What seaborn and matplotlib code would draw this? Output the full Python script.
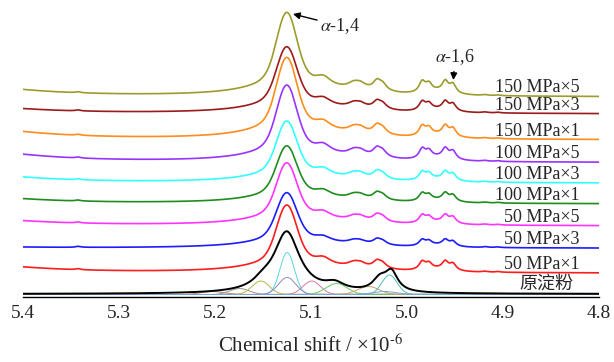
import numpy as np
import pandas as pd
import seaborn as sns
import matplotlib.pyplot as plt

# stacked 1H NMR spectra, top to bottom
samples = ['150 MPa×5', '150 MPa×3', '150 MPa×1', '100 MPa×5', '100 MPa×3',
           '100 MPa×1', '50 MPa×5', '50 MPa×3', '50 MPa×1']
colors = ['#9c9c2c', '#9b1b1b', '#ff8c1c', '#9933ff', '#33ffff',
          '#1f8c1f', '#ff33ff', '#1c1cff', '#ff1c1c']
offsets = [200, 183, 157, 134.3, 113.7, 93, 71, 48.7, 23.7]
main_heights = [83, 66, 81, 76, 61, 57, 62, 55, 67]
minor_scale = [1.0, 0.8, 0.9, 0.9, 0.75, 0.7, 0.7, 0.55, 0.75]
left_rise = [7, 5, 8, 8, 6, 5, 5, 1, 6]

# alpha-1,4 main peak: gaussian core + two lorentzian wings (fractions)
main_center = 5.125
core_frac, core_sigma = 0.62, 0.0098
wing_fracs = [0.30, 0.08]
wing_widths = [0.022, 0.06]

# smaller peaks shared by the treated samples (ppm, height, half width)
minor_centers = [5.087, 5.050, 5.055, 5.048, 5.031, 5.025,
                 4.968, 4.984, 4.977, 4.960, 4.952]
minor_heights = [9, 3, 5, 4, 9, 6, 3, 11, 8, 11, 9]
minor_widths = [0.010, 0.025, 0.007, 0.006, 0.005, 0.005,
                0.012, 0.004, 0.004, 0.004, 0.004]
noise_centers = [5.342, 4.918, 4.905]
noise_heights = [1.0, 0.8, 0.7]

# native starch (原淀粉)
native_label = '原淀粉'
native_offset = 3
native_centers = [5.125, 5.150, 5.075, 5.028, 5.016]
native_heights = [61, 6, 7, 12, 19]
native_widths = [0.0165, 0.012, 0.012, 0.009, 0.008]

# deconvolution components under the native spectrum
comp_base = 2.5
comp_centers = [5.202, 5.174, 5.152, 5.1245, 5.1245, 5.099, 5.073, 5.040, 5.018, 5.023]
comp_heights = [3, 6, 13.5, 42, 17, 13.5, 11, 8, 19.5, 3]
comp_sigmas = [0.012, 0.010, 0.009, 0.0075, 0.009, 0.009, 0.011, 0.011, 0.008, 0.012]
comp_colors = ['#b08070', '#a09090', '#b5b548', '#5cd6d6', '#8a8ac8',
               '#d47aa8', '#66cc66', '#c8a070', '#4fbcbc', '#7fa6d8']

xticks = [5.4, 5.3, 5.2, 5.1, 5.0, 4.9, 4.8]


def lorentz(x, c, h, w):
    return h * w**2 / ((x - c)**2 + w**2)


def gauss(x, c, h, s):
    return h * np.exp(-0.5 * ((x - c) / s)**2)


sns.set_style('white')
plt.rcParams['font.family'] = ['Liberation Serif', 'Noto Sans CJK SC']
plt.rcParams['mathtext.fontset'] = 'stix'

fig = plt.figure(figsize=(6.14, 3.62), dpi=100)
ax = fig.add_axes([22.5 / 614, 65 / 362, 576.5 / 614, 297 / 362])

x = np.linspace(4.8, 5.4, 2000)

for i, name in enumerate(samples):
    y = np.full_like(x, offsets[i])
    y += gauss(x, main_center, main_heights[i] * core_frac, core_sigma)
    for f, w in zip(wing_fracs, wing_widths):
        y += lorentz(x, main_center, main_heights[i] * f, w)
    for c, h, w in zip(minor_centers, minor_heights, minor_widths):
        y += lorentz(x, c, h * minor_scale[i], w)
    for c, h in zip(noise_centers, noise_heights):
        y += lorentz(x, c, h, 0.003)
    y += lorentz(x, 5.46, left_rise[i] / 0.625, 0.08)
    df = pd.DataFrame({'shift': x, 'intensity': y})
    sns.lineplot(data=df, x='shift', y='intensity', color=colors[i], lw=1.2,
                 estimator=None, sort=False, ax=ax)
    ax.text(4.82, offsets[i] + 4.5, name, ha='right', va='baseline', fontsize=13,
            family='Liberation Serif')

for c, h, s, col in zip(comp_centers, comp_heights, comp_sigmas, comp_colors):
    df = pd.DataFrame({'shift': x, 'intensity': comp_base + gauss(x, c, h, s)})
    sns.lineplot(data=df, x='shift', y='intensity', color=col, lw=0.7,
                 estimator=None, sort=False, ax=ax)

y = np.full_like(x, native_offset)
for c, h, w in zip(native_centers, native_heights, native_widths):
    y += lorentz(x, c, h, w)
df = pd.DataFrame({'shift': x, 'intensity': y})
sns.lineplot(data=df, x='shift', y='intensity', color='black', lw=1.4,
             estimator=None, sort=False, ax=ax)
ax.text(4.827, native_offset + 5, native_label, ha='right', va='baseline',
        fontsize=13, family=['Noto Sans CJK SC'])

ax.annotate(r'$\alpha$-1,4', xy=(5.1185, 283), xytext=(5.090, 271),
            ha='left', va='center', fontsize=13,
            arrowprops=dict(arrowstyle='-|>', color='black', lw=1, mutation_scale=10,
                            shrinkA=0, shrinkB=0))
ax.annotate(r'$\alpha$-1,6', xy=(4.9516, 217), xytext=(4.950, 240),
            ha='center', va='center', fontsize=13,
            arrowprops=dict(arrowstyle='-|>', color='black', lw=1, mutation_scale=10,
                            shrinkA=1, shrinkB=0))

ax.set_xlim(5.4, 4.8)
ax.set_ylim(0, 297)
ax.set_xticks(xticks)
ax.set_xticklabels([f'{t:.1f}' for t in xticks], fontsize=14)
ax.set_yticks([])
ax.set_ylabel('')
ax.set_xlabel(r'Chemical shift / ×10$^{\text{-}6}$', fontsize=15, labelpad=9)
for side in ['top', 'left', 'right']:
    ax.spines[side].set_visible(False)
ax.spines['bottom'].set_color('black')
ax.spines['bottom'].set_linewidth(1.0)
ax.tick_params(axis='x', direction='inout', length=6, width=1, color='black', pad=3)

fig.savefig('out.png', dpi=100)
